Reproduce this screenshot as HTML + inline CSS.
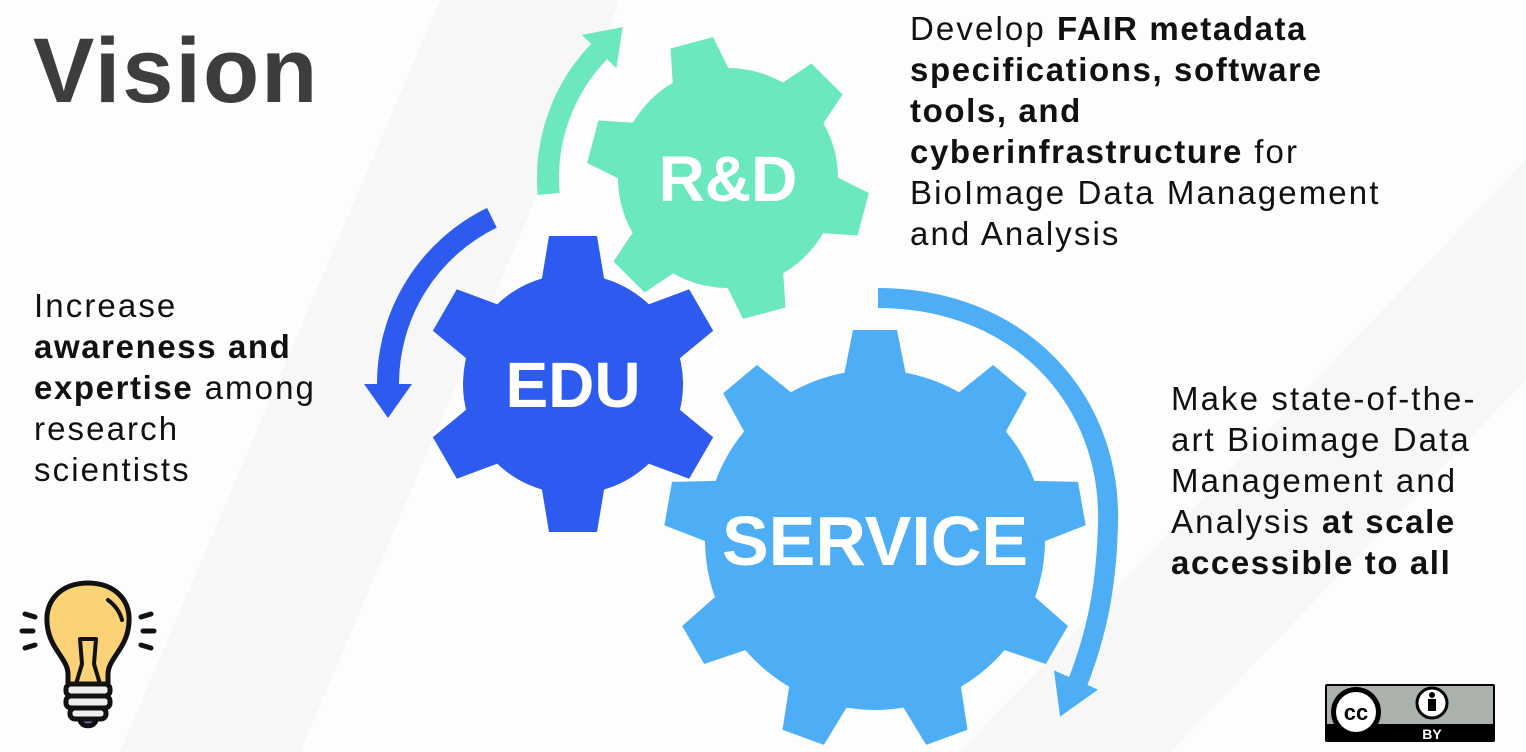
<!DOCTYPE html>
<html><head><meta charset="utf-8"><style>
html,body{margin:0;padding:0;}
body{width:1526px;height:752px;overflow:hidden;background:#fdfdfd;position:relative;font-family:"Liberation Sans",sans-serif;}
svg{position:absolute;left:0;top:0;}
.t{position:absolute;font-size:33px;line-height:41px;color:#111;letter-spacing:2.1px;white-space:nowrap;}
.t b{font-weight:bold;letter-spacing:1.6px;}
</style></head><body>
<svg id="s" width="1526" height="752" viewBox="0 0 1526 752" xmlns="http://www.w3.org/2000/svg">
<path d="M440 0 L620 0 L300 752 L120 752 Z" fill="#f7f7f7"/>
<path d="M1526 160 L1526 380 L1170 752 L960 752 Z" fill="#f7f7f7"/>
<g id="g"></g>
<text x="33" y="102" font-size="92" font-weight="bold" fill="#3d3d3d" letter-spacing="2" font-family="Liberation Sans, sans-serif">Vision</text>
<g stroke="#111" stroke-width="5" stroke-linecap="round" stroke-linejoin="round">
<path d="M68 684 L68 674 C68 660 52 650 48 630 C42 600 62 583 88 583 C114 583 134 600 128 630 C124 650 108 660 108 674 L108 684 Z" fill="#fbd376"/>
<path d="M80 639 L96 639 L94 664 L100 684 M80 639 L82 664 L76 684" fill="none" stroke-width="4"/>
<rect x="66" y="684" width="44" height="12" rx="5" fill="#eee"/>
<rect x="66" y="696" width="44" height="12" rx="5" fill="#eee"/>
<rect x="70" y="708" width="36" height="11" rx="5" fill="#eee"/>
<path d="M80 719 L96 719 C96 728 80 728 80 719 Z" fill="#7a6fc0"/>
<path d="M25 614 L35 617 M22 631 L33 631 M25 648 L35 645 M151 614 L141 617 M154 631 L143 631 M151 648 L141 645" fill="none"/>
<path d="M108 600 C116 606 120 612 122 620" fill="none" stroke-width="4"/>
</g>
<rect x="1325" y="684" width="170" height="58" fill="#000" rx="2"/>
<rect x="1327" y="686" width="166" height="38" fill="#aab2ab"/>
<circle cx="1356" cy="712" r="25" fill="#000"/><circle cx="1356" cy="712" r="20" fill="#fff"/>
<text x="1356" y="720" font-size="22" font-weight="bold" text-anchor="middle" fill="#000" font-family="Liberation Sans, sans-serif">cc</text>
<circle cx="1432" cy="703" r="15" fill="#fff" stroke="#000" stroke-width="3"/>
<circle cx="1432" cy="695" r="3" fill="#000"/>
<rect x="1428" y="699" width="8" height="12" fill="#000"/>
<text x="1432" y="739" font-size="14" font-weight="bold" text-anchor="middle" fill="#fff" font-family="Liberation Sans, sans-serif">BY</text>
</svg>
<div class="t" style="left:910px;top:8px;">Develop <b>FAIR metadata</b><br><b>specifications, software</b><br><b>tools, and</b><br><b>cyberinfrastructure</b> for<br>BioImage Data Management<br>and Analysis</div>
<div class="t" style="left:34px;top:285px;">Increase<br><b>awareness and</b><br><b>expertise</b> among<br>research<br>scientists</div>
<div class="t" style="left:1171px;top:378px;">Make state-of-the-<br>art Bioimage Data<br>Management and<br>Analysis <b>at scale</b><br><b>accessible to all</b></div>
<script>
var g=document.getElementById('g'),NS='http://www.w3.org/2000/svg';
function el(n,a){var e=document.createElementNS(NS,n);for(var k in a)e.setAttribute(k,a[k]);g.appendChild(e);return e;}
function gear(cx,cy,rb,rt,n,a0,bw,tw,col,label,fs){
 el('circle',{cx:cx,cy:cy,r:rb,fill:col});
 for(var i=0;i<n;i++){var a=(a0+i*360/n);
  el('polygon',{points:(rb-10)+','+(-bw)+' '+rt+','+(-tw)+' '+rt+','+tw+' '+(rb-10)+','+bw,fill:col,transform:'translate('+cx+','+cy+') rotate('+a+')'});}
 var t=el('text',{x:cx,y:cy+fs*0.36,'font-size':fs,'font-weight':'bold',fill:'#fff','text-anchor':'middle','font-family':'Liberation Sans, sans-serif'});t.textContent=label;
}
function head(x,y,dx,dy,len,hw,col){var l=Math.hypot(dx,dy);dx/=l;dy/=l;var px=-dy,py=dx;
 el('polygon',{points:(x+px*hw)+','+(y+py*hw)+' '+(x+dx*len)+','+(y+dy*len)+' '+(x-px*hw)+','+(y-py*hw),fill:col});}
function arc(cx,cy,r,a0,a1,w,col){var R=Math.PI/180;
 var x0=cx+r*Math.cos(a0*R),y0=cy+r*Math.sin(a0*R),x1=cx+r*Math.cos(a1*R),y1=cy+r*Math.sin(a1*R);
 var sw=a1>a0?1:0;var big=Math.abs(a1-a0)>180?1:0;
 el('path',{d:'M'+x0+' '+y0+' A'+r+' '+r+' 0 '+big+' '+sw+' '+x1+' '+y1,fill:'none',stroke:col,'stroke-width':w});
 var s=sw?1:-1;var dx=-Math.sin(a1*R)*s,dy=Math.cos(a1*R)*s;head(x1,y1,dx,dy,34,24,col);}
arc(730,178,182,175,224,22,'#6ce8be');
arc(573,384,185,244,180,22,'#2d5bf0');
el('path',{d:'M878 298 C1020 298 1112 400 1108 525 C1106 600 1092 645 1078 682',fill:'none',stroke:'#4daef5','stroke-width':20});
head(1076,680,-0.4,0.92,40,24,'#4daef5');
gear(728,178,110,140,6,-105,30,22,'#6ce8be','R&D',64);
gear(573,384,110,148,6,-90,32,24,'#2d5bf0','EDU',64);
gear(875,540,170,210,9,-90,32,22,'#4daef5','SERVICE',70);
</script>
</body></html>
